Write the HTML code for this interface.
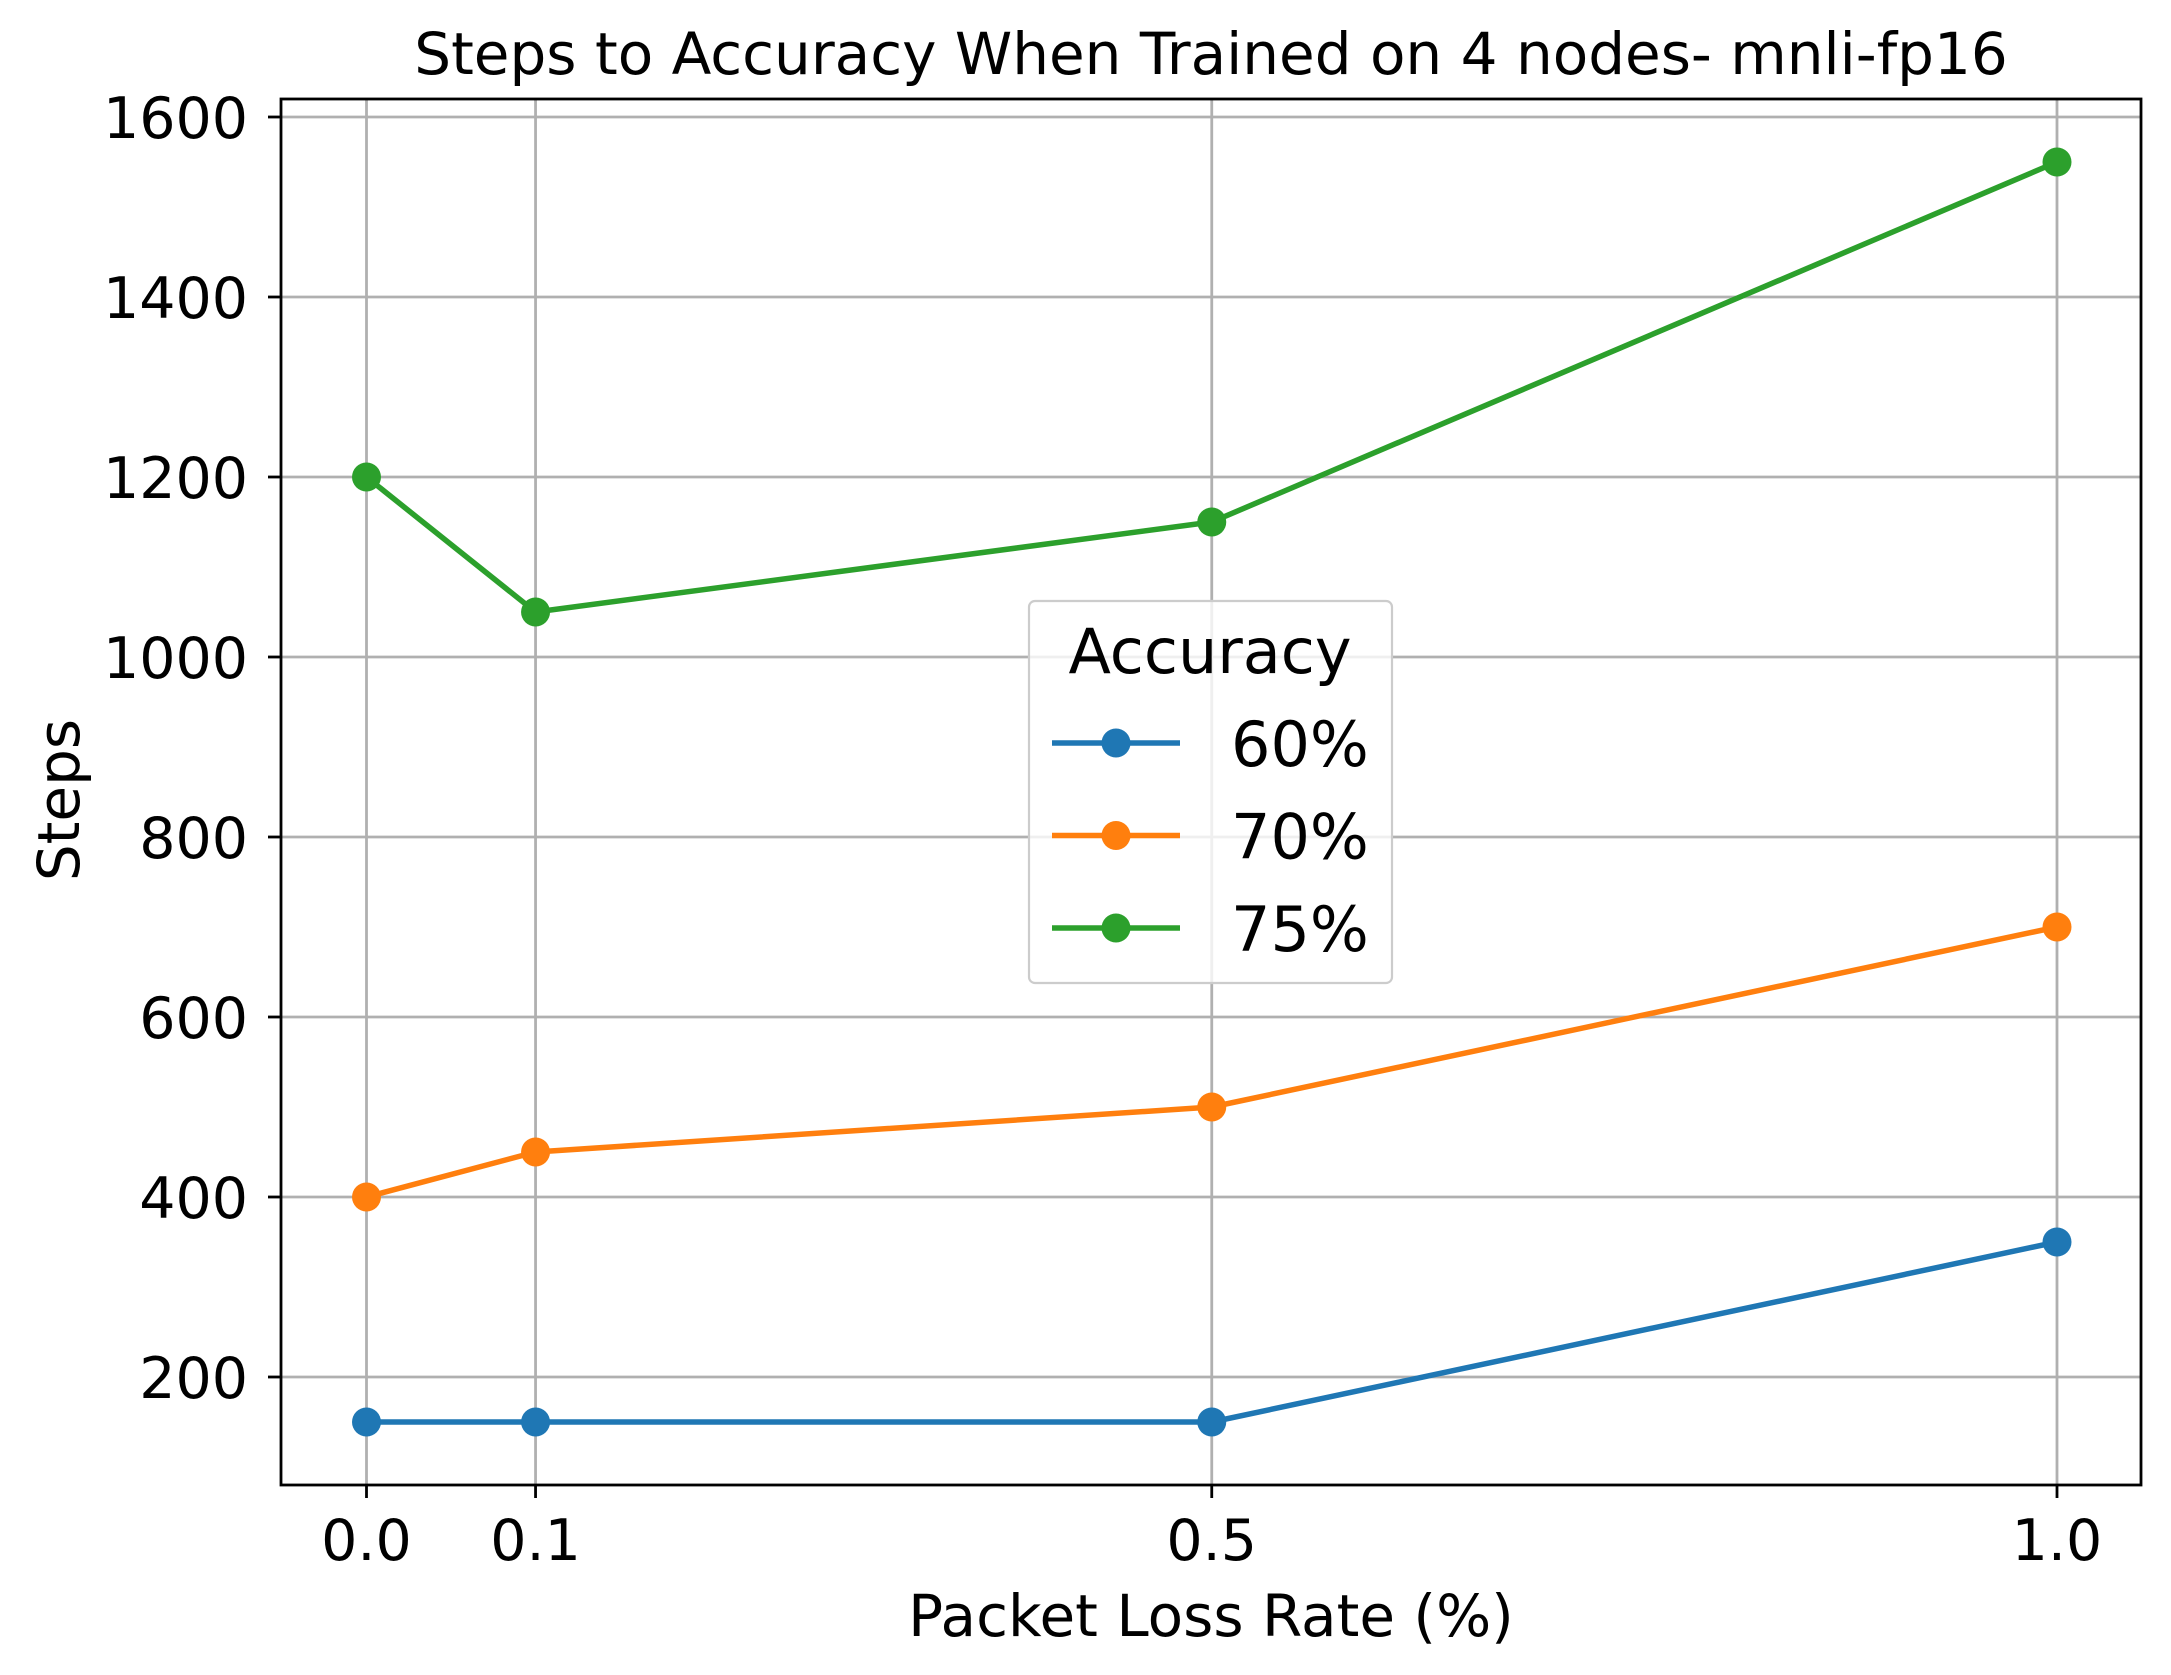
<!DOCTYPE html>
<html><head><meta charset="utf-8"><style>
html,body{margin:0;padding:0;background:#fff;}
svg{display:block;font-family:"DejaVu Sans","Liberation Sans",sans-serif;}
</style></head><body>
<svg id="chart" width="2171" height="1675" viewBox="0 0 2171 1675"></svg>
<script>
const categories = [0.0, 0.1, 0.5, 1.0];
const xTickLabels = ["0.0", "0.1", "0.5", "1.0"];
const yTicks = [200, 400, 600, 800, 1000, 1200, 1400, 1600];
const seriesNames = ["60%", "70%", "75%"];
const series60 = [150, 150, 150, 350];
const series70 = [400, 450, 500, 700];
const series75 = [1200, 1050, 1150, 1550];
const colors = ["#1f77b4", "#ff7f0e", "#2ca02c"];

const NS = "http://www.w3.org/2000/svg";
const svg = document.getElementById("chart");
const L = 281, R = 2141, T = 99, B = 1485;
function xs(v){ return 366.5 + v * (2057 - 366.5); }
function ys(v){ return 1377 - (v - 200) * 0.9; }
function mk(tag, attrs, parent){
  const e = document.createElementNS(NS, tag);
  for (const k in attrs) e.setAttribute(k, attrs[k]);
  (parent || svg).appendChild(e);
  return e;
}
categories.forEach((c, i) => {
  const g = mk("line", {x1: xs(c), x2: xs(c), y1: T, y2: B, stroke: "#b0b0b0", "stroke-width": 2.8});
  
  
  const t = mk("line", {x1: xs(c), x2: xs(c), y1: B, y2: B + 13, stroke: "#000", "stroke-width": 2.8});
  
  
  const lb = mk("text", {x: xs(c), y: 1560, "text-anchor": "middle", "font-size": 57, fill: "#000"});
  lb.textContent = xTickLabels[i];
  
  
});
yTicks.forEach(v => {
  const g = mk("line", {x1: L, x2: R, y1: ys(v), y2: ys(v), stroke: "#b0b0b0", "stroke-width": 2.8});
  
  
  const t = mk("line", {x1: L - 13, x2: L, y1: ys(v), y2: ys(v), stroke: "#000", "stroke-width": 2.8});
  
  
  const lb = mk("text", {x: 248, y: ys(v) + 21, "text-anchor": "end", "font-size": 57, fill: "#000"});
  lb.textContent = String(v);
  
  
});
[series60, series70, series75].forEach((s, si) => {
  const pts = s.map((v, i) => xs(categories[i]) + "," + ys(v)).join(" ");
  const pl = mk("polyline", {points: pts, fill: "none", stroke: colors[si], "stroke-width": 5.5, "stroke-linejoin": "round"});
  
  
  s.forEach((v, i) => {
    const c = mk("circle", {cx: xs(categories[i]), cy: ys(v), r: 14.5, fill: colors[si]});
    
    
  });
});
const fr = mk("rect", {x: L, y: T, width: R - L, height: B - T, fill: "none", stroke: "#000", "stroke-width": 2.8});


const ti = mk("text", {x: 1211, y: 74, "text-anchor": "middle", "font-size": 58, fill: "#000"});
ti.textContent = "Steps to Accuracy When Trained on 4 nodes- mnli-fp16";


const xl = mk("text", {x: 1211, y: 1636, "text-anchor": "middle", "font-size": 58, fill: "#000"});
xl.textContent = "Packet Loss Rate (%)";


const yl = mk("text", {x: 0, y: 0, "text-anchor": "middle", "font-size": 58, fill: "#000", transform: "translate(79,800) rotate(-90)"});
yl.textContent = "Steps";


const lg = mk("g", {});


mk("rect", {x: 1029, y: 601, width: 363, height: 382, rx: 6, fill: "#fff", "fill-opacity": 0.8, stroke: "#cccccc", "stroke-width": 2.2}, lg);
const lt = mk("text", {x: 1210, y: 673, "text-anchor": "middle", "font-size": 62, fill: "#000"}, lg);
lt.textContent = "Accuracy";


seriesNames.forEach((n, i) => {
  const y = 743 + i * 92.5;
  const g = mk("g", {}, lg);
  
  
  mk("line", {x1: 1052, x2: 1180, y1: y, y2: y, stroke: colors[i], "stroke-width": 5.5}, g);
  mk("circle", {cx: 1116, cy: y, r: 14.5, fill: colors[i]}, g);
  const t = mk("text", {x: 1231, y: y + 23, "font-size": 62, fill: "#000"}, g);
  t.textContent = n;
});
</script>
</body></html>
